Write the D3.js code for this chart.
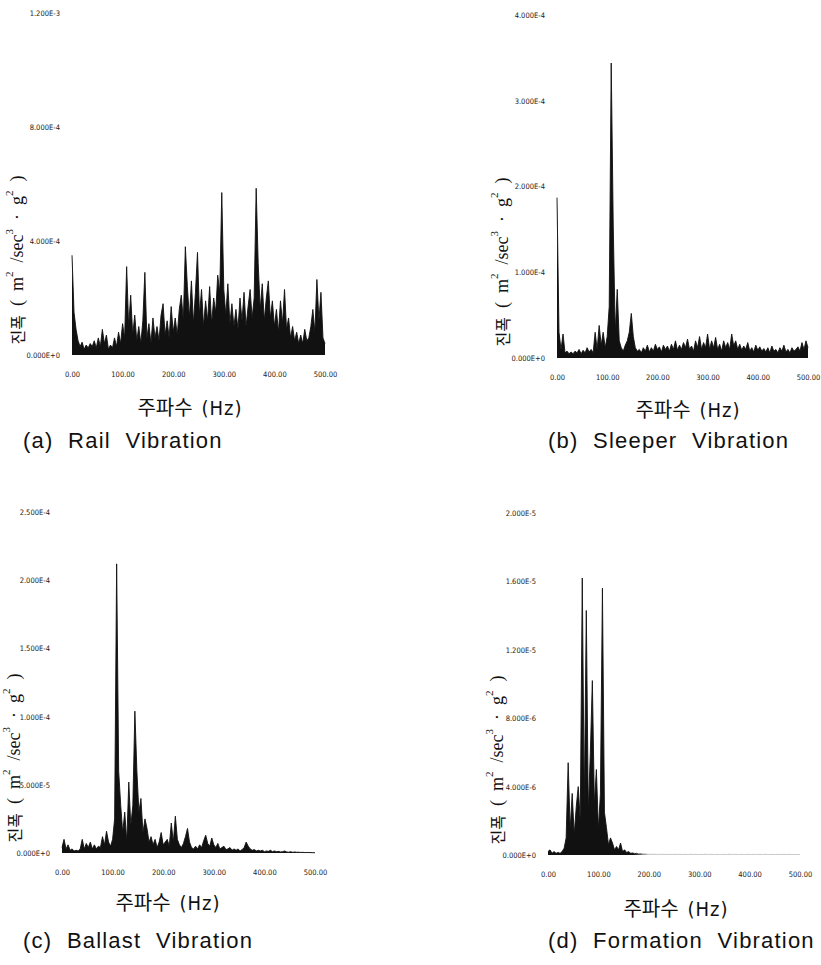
<!DOCTYPE html>
<html>
<head>
<meta charset="utf-8">
<script src="https://cdn.jsdelivr.net/npm/d3@7"></script>
<style>
  body { margin: 0; background: #fff; }
  text { white-space: pre; }
</style>
</head>
<body>
<svg id="fig" width="821" height="965"></svg>
<script>
// samples every 4 Hz, 0..500 Hz
const freqStep = 4;
const freqTicks = [0, 100, 200, 300, 400, 500];
const freqTickLabels = ["0.00", "100.00", "200.00", "300.00", "400.00", "500.00"];

// (a) rail, in 1e-4
const railAmp = [
  3.5, 1.5, 0.9, 0.5, 0.3, 0.45, 0.2, 0.35, 0.25, 0.4, 0.3, 0.5, 0.25, 0.6, 0.3, 0.9,
  0.4, 0.7, 0.2, 0.35, 0.25, 0.6, 0.3, 0.8, 0.4, 1.1, 0.6, 3.1, 1.0, 2.1, 0.7, 1.4,
  0.5, 1.0, 0.4, 1.2, 2.9, 0.6, 1.1, 0.4, 1.3, 0.6, 1.0, 0.5, 1.4, 1.8, 0.7, 1.2,
  0.6, 1.7, 0.8, 1.3, 0.7, 1.6, 2.1, 1.2, 3.8, 2.4, 1.3, 2.6, 1.1, 2.2, 3.6, 1.4,
  2.3, 1.0, 1.9, 1.2, 2.4, 1.1, 2.0, 1.5, 2.8, 2.2, 5.7, 2.3, 1.4, 2.5, 1.1, 1.8,
  1.0, 1.6, 0.9, 2.0, 1.2, 2.2, 1.0, 1.7, 2.3, 1.3, 2.0, 5.85, 3.2, 1.6, 2.5, 1.2,
  2.0, 2.6, 1.3, 1.9, 1.0, 1.6, 0.8, 1.9, 1.1, 2.3, 0.9, 1.3, 0.6, 1.0, 0.5, 0.8,
  0.4, 0.7, 0.4, 0.9, 0.5, 0.6, 1.0, 1.6, 0.8, 2.65, 1.2, 2.2, 0.6, 0.4
];
const railTicks = [0, 4, 8, 12];
const railTickLabels = ["0.000E+0", "4.000E-4", "8.000E-4", "1.200E-3"];

// (b) sleeper, in 1e-4
const sleeperAmp = [
  1.87, 0.3, 0.1, 0.28, 0.06, 0.08, 0.05, 0.07, 0.05, 0.08, 0.06, 0.1, 0.05, 0.09, 0.06, 0.12,
  0.07, 0.1, 0.06, 0.3, 0.1, 0.38, 0.15, 0.3, 0.12, 0.25, 0.6, 3.44, 1.55, 0.3, 0.8, 0.2,
  0.12, 0.08, 0.15, 0.2, 0.3, 0.52, 0.25, 0.12, 0.08, 0.1, 0.06, 0.12, 0.08, 0.15, 0.07, 0.12,
  0.08, 0.16, 0.1, 0.13, 0.07, 0.15, 0.1, 0.14, 0.08, 0.16, 0.1, 0.2, 0.09, 0.15, 0.1, 0.18,
  0.12, 0.22, 0.1, 0.14, 0.08, 0.2, 0.12, 0.25, 0.1, 0.18, 0.12, 0.28, 0.1, 0.2, 0.12, 0.24,
  0.1, 0.16, 0.08, 0.2, 0.12, 0.18, 0.1, 0.28, 0.14, 0.2, 0.1, 0.16, 0.09, 0.14, 0.1, 0.18,
  0.08, 0.12, 0.07, 0.15, 0.09, 0.13, 0.08, 0.11, 0.07, 0.12, 0.06, 0.14, 0.08, 0.1, 0.06, 0.12,
  0.08, 0.15, 0.07, 0.1, 0.06, 0.12, 0.08, 0.1, 0.13, 0.08, 0.18, 0.1, 0.2, 0.12
];
const sleeperTicks = [0, 1, 2, 3, 4];
const sleeperTickLabels = ["0.000E+0", "1.000E-4", "2.000E-4", "3.000E-4", "4.000E-4"];

// (c) ballast, in 1e-5
const ballastAmp = [
  0.4, 1.0, 0.3, 0.6, 0.2, 0.3, 0.15, 0.2, 0.15, 0.3, 1.0, 0.3, 0.7, 0.4, 0.8, 0.3,
  0.6, 0.3, 0.5, 0.4, 1.2, 0.6, 1.6, 0.8, 0.5, 1.0, 2.5, 21.2, 6.0, 3.5, 1.5, 3.0,
  0.8, 5.2, 2.0, 3.5, 10.4, 6.0, 3.0, 4.0, 1.5, 2.5, 1.8, 0.8, 1.2, 0.6, 1.0, 0.4,
  0.8, 1.5, 0.6, 0.8, 1.0, 0.5, 2.2, 0.8, 2.7, 1.0, 0.6, 0.4, 0.7, 1.2, 1.8, 0.8,
  0.4, 0.3, 0.5, 0.3, 0.6, 0.4, 0.9, 1.3, 0.7, 0.5, 1.1, 0.6, 0.4, 0.7, 0.3, 0.4,
  0.5, 0.25, 0.3, 0.4, 0.2, 0.3, 0.2, 0.3, 0.15, 0.25, 0.4, 0.8, 0.5, 0.3, 0.2, 0.25,
  0.15, 0.2, 0.15, 0.2, 0.1, 0.15, 0.12, 0.2, 0.1, 0.15, 0.1, 0.12, 0.08, 0.1, 0.15, 0.08,
  0.06, 0.1, 0.05, 0.08, 0.05, 0.06, 0.04, 0.05, 0.03, 0.04, 0.03, 0.03, 0.02, 0.02
];
const ballastTicks = [0, 5, 10, 15, 20, 25];
const ballastTickLabels = ["0.000E+0", "5.000E-5", "1.000E-4", "1.500E-4", "2.000E-4", "2.500E-4"];

// (d) formation, in 1e-6
const formationAmp = [
  0.2, 0.3, 0.1, 0.2, 0.1, 0.15, 0.1, 0.2, 0.4, 1.0, 5.4, 1.5, 3.6, 1.2, 2.8, 4.0,
  2.0, 16.2, 3.0, 14.3, 2.5, 6.0, 10.2, 3.0, 5.0, 1.5, 3.6, 15.6, 2.5, 1.6, 0.6, 1.0,
  0.7, 0.3, 0.5, 0.3, 0.7, 0.2, 0.3, 0.15, 0.2, 0.1, 0.12, 0.08, 0.1, 0.06, 0.08, 0.05,
  0.06, 0.05, 0.04, 0.05, 0.04, 0.05, 0.03, 0.04, 0.03, 0.05, 0.03, 0.04, 0.03, 0.04, 0.03, 0.05,
  0.03, 0.04, 0.03, 0.03, 0.04, 0.03, 0.03, 0.05, 0.03, 0.04, 0.03, 0.03, 0.04, 0.03, 0.05, 0.03,
  0.03, 0.04, 0.03, 0.03, 0.04, 0.03, 0.03, 0.04, 0.03, 0.03, 0.05, 0.03, 0.03, 0.04, 0.03, 0.03,
  0.04, 0.03, 0.03, 0.04, 0.03, 0.03, 0.04, 0.03, 0.03, 0.04, 0.03, 0.03, 0.05, 0.03, 0.03, 0.04,
  0.03, 0.03, 0.04, 0.03, 0.03, 0.04, 0.03, 0.03, 0.04, 0.03, 0.03, 0.03, 0.03, 0.03
];
const formationTicks = [0, 4, 8, 12, 16, 20];
const formationTickLabels = ["0.000E+0", "4.000E-6", "8.000E-6", "1.200E-5", "1.600E-5", "2.000E-5"];

const captions = ["(a)  Rail  Vibration", "(b)  Sleeper  Vibration", "(c)  Ballast  Vibration", "(d)  Formation  Vibration"];

// layout of the four panels (pixels); fadeHz = where the scanned trace goes pale
const panels = [
  { vals: railAmp, ticks: railTicks, labels: railTickLabels, fadeHz: null,
    left: 72, right: 325, bottom: 355, top: 13, ylabX: 17, ylabY: 260, xlabX: 190, xlabY: 415, capX: 23, capY: 448 },
  { vals: sleeperAmp, ticks: sleeperTicks, labels: sleeperTickLabels, fadeHz: null,
    left: 557, right: 808, bottom: 358, top: 15, ylabX: 502, ylabY: 262, xlabX: 688, xlabY: 417, capX: 548, capY: 448 },
  { vals: ballastAmp, ticks: ballastTicks, labels: ballastTickLabels, fadeHz: null,
    left: 62, right: 315, bottom: 853, top: 512, ylabX: 14, ylabY: 758, xlabX: 168, xlabY: 910, capX: 23, capY: 948 },
  { vals: formationAmp, ticks: formationTicks, labels: formationTickLabels, fadeHz: 190,
    left: 548, right: 800, bottom: 855, top: 513, ylabX: 497, ylabY: 760, xlabX: 676, xlabY: 916, capX: 548, capY: 948 }
];

const svg = d3.select("#fig");
const defs = svg.append("defs");
const tickFont = "'Liberation Sans Narrow', 'DejaVu Sans Condensed', sans-serif";

panels.forEach((p, k) => {
  const x = d3.scaleLinear().domain([0, 500]).range([p.left, p.right]);
  const y = d3.scaleLinear().domain([0, p.ticks[p.ticks.length - 1]]).range([p.bottom, p.top]);
  const g = svg.append("g");

  // y ticks: labels only, no lines
  const yAxis = g.append("g")
    .attr("transform", `translate(${p.left - 12},0)`)
    .call(d3.axisLeft(y).tickValues(p.ticks).tickSize(0).tickPadding(0)
      .tickFormat((d, i) => p.labels[i]));
  yAxis.select(".domain").remove();
  yAxis.selectAll("text").attr("font-family", tickFont).attr("font-size", 7.5).attr("fill", "#222");

  const xAxis = g.append("g")
    .attr("transform", `translate(0,${p.bottom + 17})`)
    .call(d3.axisBottom(x).tickValues(freqTicks).tickSize(0).tickPadding(0)
      .tickFormat((d, i) => freqTickLabels[i]));
  xAxis.select(".domain").remove();
  xAxis.selectAll("text").attr("font-family", tickFont).attr("font-size", 7.5).attr("fill", "#222");

  // ink colour, fading out for the pale tail of (d)
  let ink = "#111";
  if (p.fadeHz) {
    const gid = "fade" + k;
    const grad = defs.append("linearGradient").attr("id", gid)
      .attr("gradientUnits", "userSpaceOnUse")
      .attr("x1", x(p.fadeHz - 20)).attr("x2", x(p.fadeHz + 10)).attr("y1", 0).attr("y2", 0);
    grad.append("stop").attr("offset", 0).attr("stop-color", "#111");
    grad.append("stop").attr("offset", 1).attr("stop-color", "#c8c8c8");
    ink = `url(#${gid})`;
  }

  // spectrum: dense trace drawn as a filled area plus its outline
  const area = d3.area()
    .x((d, i) => x(i * freqStep))
    .y0(y(0))
    .y1(d => y(d));
  const line = d3.line()
    .x((d, i) => x(i * freqStep))
    .y(d => y(d));
  g.append("path")
    .datum(p.vals)
    .attr("d", area)
    .attr("fill", ink);
  g.append("path")
    .datum(p.vals)
    .attr("d", line)
    .attr("fill", "none")
    .attr("stroke", ink)
    .attr("stroke-width", 0.9);

  // y label
  const yl = g.append("text")
    .attr("transform", `translate(${p.ylabX},${p.ylabY}) rotate(-90)`)
    .attr("text-anchor", "middle")
    .attr("dominant-baseline", "central")
    .attr("font-family", "'Liberation Serif', serif")
    .attr("font-size", 18)
    .attr("fill", "#111");
  yl.append("tspan").attr("font-family", "'Noto Sans CJK KR', sans-serif").attr("font-size", 16).text("진폭");
  yl.append("tspan").text("  (  m");
  yl.append("tspan").attr("font-size", 11).attr("dy", -8).text("2");
  yl.append("tspan").attr("dy", 8).text("  /sec");
  yl.append("tspan").attr("font-size", 11).attr("dy", -8).text("3");
  yl.append("tspan").attr("dy", 8).text("  ·  g");
  yl.append("tspan").attr("font-size", 11).attr("dy", -8).text("2");
  yl.append("tspan").attr("dy", 8).text("  )");

  // x label
  const xl = g.append("text")
    .attr("x", p.xlabX).attr("y", p.xlabY)
    .attr("text-anchor", "middle")
    .attr("fill", "#111");
  xl.append("tspan").attr("font-family", "'Noto Sans CJK KR', sans-serif").attr("font-size", 20).text("주파수  ");
  xl.append("tspan").attr("font-family", tickFont).attr("font-size", 20).attr("letter-spacing", 1).text("(Hz)");

  // caption
  g.append("text")
    .attr("x", p.capX).attr("y", p.capY)
    .attr("font-family", "'Liberation Sans', Arial, sans-serif")
    .attr("font-size", 22)
    .attr("letter-spacing", 1.2)
    .attr("fill", "#111")
    .text(captions[k]);
});
</script>
</body>
</html>
